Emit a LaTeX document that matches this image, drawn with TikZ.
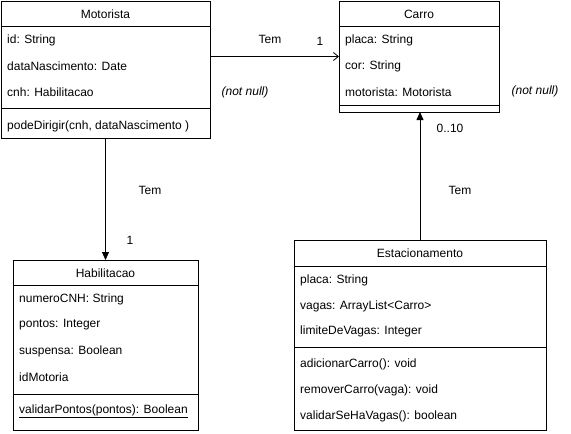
\documentclass[tikz,border=0pt]{standalone}
\usepackage{fontspec}
\setmainfont{Liberation Sans}
\usetikzlibrary{arrows.meta}
\begin{document}
\begin{tikzpicture}[x=1pt,y=-1pt,
  cls/.style={draw, line width=0.8pt, inner sep=0pt, outer sep=0pt, anchor=north west},
  attr/.style={anchor=west, inner sep=0pt, font=\fontsize{12}{14}\selectfont},
  ttl/.style={inner sep=0pt, font=\fontsize{12}{14}\selectfont},
  lbl/.style={inner sep=0pt, font=\fontsize{12}{14}\selectfont},
  sep/.style={line width=0.8pt},
  conn/.style={line width=0.8pt}]
\useasboundingbox (0,0) rectangle (571,434);
% Motorista
\node[cls, minimum width=209pt, minimum height=137pt] (mot) at (1,1) {};
\node[ttl] (motT) at (105.5,14) {Motorista};
\draw[sep] (1,26) -- (210,26);
\node[attr] (m1) at (7,40) {id: String};
\node[attr] (m2) at (7,66) {dataNascimento: Date};
\node[attr] (m3) at (7,92) {cnh: Habilitacao};
\draw[sep] (1,108) -- (210,108);
\node[attr] (m4) at (7,126) {podeDirigir(cnh, dataNascimento )};
% Carro
\node[cls, minimum width=160pt, minimum height=111pt] (car) at (339,1) {};
\node[ttl] (carT) at (419,14) {Carro};
\draw[sep] (339,26) -- (499,26);
\node[attr] (c1) at (345,40) {placa: String};
\node[attr] (c2) at (345,66) {cor: String};
\node[attr] (c3) at (345,92) {motorista: Motorista};
\draw[sep] (339,105) -- (499,105);
% Habilitacao
\node[cls, minimum width=185pt, minimum height=170pt] (hab) at (13,260) {};
\node[ttl] (habT) at (105.5,273) {Habilitacao};
\draw[sep] (13,285) -- (198,285);
\node[attr] (h1) at (19,299) {numeroCNH: String};
\node[attr] (h2) at (19,325) {pontos: Integer};
\node[attr] (h3) at (19,351) {suspensa: Boolean};
\node[attr] (h4) at (19,377) {idMotoria};
\draw[sep] (13,394) -- (198,394);
\node[attr] (h5) at (19,411) {\underline{validarPontos(pontos): Boolean}};
% Estacionamento
\node[cls, minimum width=252pt, minimum height=190pt] (est) at (294,240) {};
\node[ttl] (estT) at (420,253) {Estacionamento};
\draw[sep] (294,266) -- (546,266);
\node[attr] (e1) at (300,280) {placa: String};
\node[attr] (e2) at (300,306) {vagas: ArrayList<Carro>};
\node[attr] (e3) at (300,331) {limiteDeVagas: Integer};
\draw[sep] (294,347) -- (546,347);
\node[attr] (e4) at (300,364) {adicionarCarro(): void};
\node[attr] (e5) at (300,390) {removerCarro(vaga): void};
\node[attr] (e6) at (300,416) {validarSeHaVagas(): boolean};
% connectors
\draw[conn, -{Straight Barb[length=5pt,width=8pt]}] (car.west -| mot.east) -- (car.west);
\draw[conn, -{Triangle[length=8pt,width=7pt]}] (mot.south) -- (hab.north);
\draw[conn, -{Triangle[length=8pt,width=7pt]}] (est.north) -- (est.north |- car.south);
% labels
\node[lbl] (t1) at (270,39) {Tem};
\node[lbl] (n1) at (320,41) {1};
\node[lbl] (t2) at (150,190) {Tem};
\node[lbl] (n2) at (130,240) {1};
\node[lbl] (t3) at (460,190) {Tem};
\node[lbl] (n3) at (450,128) {0..10};
\node[lbl, font=\fontsize{12}{14}\selectfont\itshape] (nn1) at (245,92) {(not null)};
\node[lbl, font=\fontsize{12}{14}\selectfont\itshape] (nn2) at (535,91) {(not null)};
\end{tikzpicture}
\end{document}
